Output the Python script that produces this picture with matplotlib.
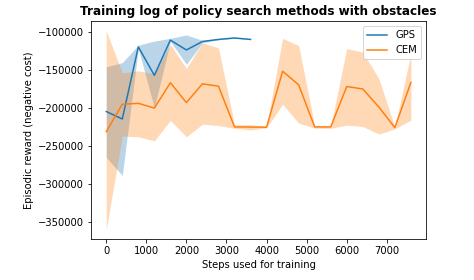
import matplotlib
matplotlib.use("Agg")
import matplotlib.pyplot as plt

# ── Data ─────────────────────────────────────────────────────────────────────
gps_steps = [0, 400, 800, 1200, 1600, 2000, 2400, 2800, 3200, 3600]
gps_mean  = [-204500, -214400, -119300, -156800, -110400, -123400, -112200, -109500, -107600, -109500]
gps_upper = [-145500, -140100, -117000, -111700, -108000, -103600, -110800, -109000, -107200, -109200]
gps_lower = [-264900, -288800, -122000, -199600, -112000, -142300, -114000, -110000, -108000, -109800]

cem_steps = [0, 400, 800, 1200, 1600, 2000, 2400, 2800, 3200, 3600,
             4000, 4400, 4800, 5200, 5600, 6000, 6400, 6800, 7200, 7600]
cem_mean  = [-231100, -195000, -193700, -200000, -166600, -192800, -168000, -171200, -224800, -225000,
             -225200, -151400, -169400, -224800, -224800, -171600, -174800, -198600, -225700, -166200]
cem_upper = [-98300, -153600, -150900, -155000, -116200, -147700, -114000, -120700, -222000, -222000,
             -224000, -108100, -117600, -223000, -223500, -121600, -126100, -161200, -225000, -128000]
cem_lower = [-360000, -236900, -237800, -243200, -216200, -237800, -221200, -223000, -226600, -228800,
             -226000, -195000, -219800, -226600, -226600, -222500, -224300, -234200, -227400, -215800]

BLUE   = "#1f77b4"
ORANGE = "#ff7f0e"

fig = plt.figure(figsize=(474 / 72, 280 / 72), dpi=72)
ax = fig.add_axes([0.192, 0.145, 0.707, 0.780])

ax.plot(gps_steps, gps_mean, color=BLUE, label="GPS")
ax.fill_between(gps_steps, gps_lower, gps_upper, color=BLUE, alpha=0.3, linewidth=0)
ax.plot(cem_steps, cem_mean, color=ORANGE, label="CEM")
ax.fill_between(cem_steps, cem_lower, cem_upper, color=ORANGE, alpha=0.3, linewidth=0)

ax.set_title("Training log of policy search methods with obstacles", fontweight="bold")
ax.set_xlabel("Steps used for training")
ax.set_ylabel("Episodic reward (negative cost)")
ax.legend(loc="upper right")

fig.savefig("out.png", dpi=72)
